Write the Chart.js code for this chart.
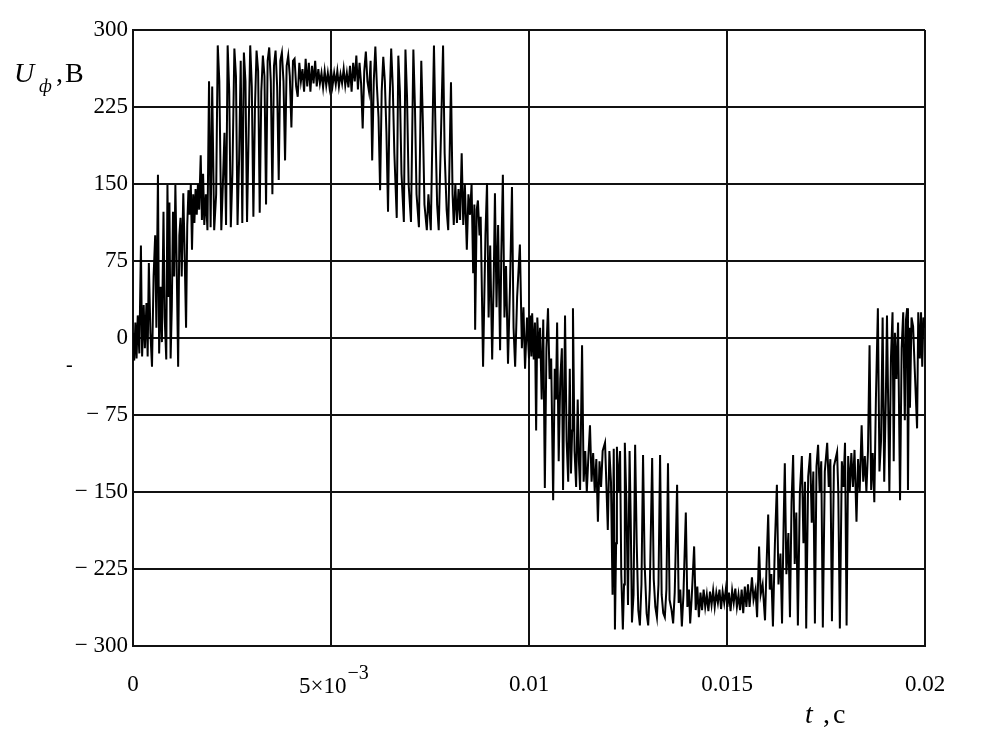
<!DOCTYPE html>
<html>
<head>
<meta charset="utf-8">
<script src="https://cdn.jsdelivr.net/npm/chart.js@4"></script>
<style>
  html, body { margin: 0; padding: 0; background: #fff; }
  #wrap { width: 990px; height: 746px; }
</style>
</head>
<body>
<div id="wrap"><canvas id="myChart" width="990" height="746"></canvas></div>
<script>
// time, ms
const tMs = [
  0.00,0.03,0.06,0.09,0.12,0.16,0.20,0.23,0.27,0.30,
  0.34,0.37,0.40,0.44,0.48,0.52,0.56,0.59,0.63,0.66,
  0.70,0.73,0.77,0.80,0.84,0.87,0.90,0.92,0.95,0.98,
  1.01,1.04,1.07,1.10,1.14,1.17,1.20,1.23,1.27,1.30,
  1.34,1.37,1.40,1.43,1.46,1.49,1.52,1.55,1.58,1.61,
  1.64,1.67,1.71,1.74,1.77,1.80,1.84,1.88,1.92,1.96,
  2.00,2.05,2.10,2.14,2.18,2.23,2.27,2.31,2.35,2.39,
  2.43,2.47,2.51,2.56,2.60,2.64,2.68,2.72,2.76,2.80,
  2.84,2.88,2.92,2.96,3.00,3.04,3.08,3.12,3.16,3.20,
  3.24,3.28,3.32,3.36,3.40,3.44,3.48,3.52,3.56,3.60,
  3.64,3.68,3.72,3.76,3.80,3.84,3.88,3.92,3.96,4.00,
  4.04,4.08,4.12,4.16,4.20,4.24,4.28,4.32,4.36,4.40,
  4.44,4.48,4.52,4.56,4.60,4.64,4.68,4.72,4.76,4.80,
  4.84,4.88,4.92,4.96,5.00,5.04,5.08,5.12,5.16,5.20,
  5.24,5.28,5.32,5.36,5.40,5.44,5.48,5.52,5.56,5.60,
  5.64,5.68,5.72,5.76,5.80,5.84,5.88,5.92,5.96,6.00,
  6.04,6.08,6.12,6.16,6.20,6.24,6.28,6.32,6.36,6.40,
  6.44,6.48,6.52,6.56,6.60,6.66,6.70,6.74,6.78,6.84,
  6.88,6.92,6.96,7.02,7.08,7.12,7.16,7.22,7.28,7.32,
  7.36,7.42,7.46,7.52,7.60,7.64,7.68,7.72,7.83,7.87,
  7.92,7.96,8.03,8.07,8.10,8.14,8.18,8.22,8.26,8.30,
  8.34,8.38,8.43,8.47,8.51,8.55,8.59,8.62,8.64,8.68,
  8.71,8.75,8.78,8.84,8.90,8.94,8.98,9.02,9.07,9.11,
  9.14,9.18,9.22,9.27,9.30,9.34,9.38,9.42,9.47,9.52,
  9.57,9.61,9.65,9.70,9.77,9.82,9.86,9.90,9.95,10.00,
  10.03,10.06,10.08,10.12,10.15,10.18,10.21,10.25,10.28,10.32,
  10.36,10.40,10.44,10.48,10.52,10.56,10.61,10.65,10.68,10.71,
  10.75,10.79,10.83,10.86,10.89,10.91,10.95,10.99,11.03,11.06,
  11.09,11.11,11.15,11.19,11.23,11.26,11.29,11.34,11.38,11.42,
  11.46,11.50,11.54,11.58,11.62,11.66,11.70,11.74,11.78,11.82,
  11.86,11.92,11.96,11.99,12.03,12.07,12.11,12.14,12.17,12.20,
  12.22,12.26,12.30,12.33,12.37,12.40,12.42,12.46,12.50,12.54,
  12.57,12.60,12.64,12.68,12.72,12.76,12.80,12.84,12.88,12.92,
  12.97,13.01,13.05,13.11,13.15,13.19,13.23,13.27,13.31,13.35,
  13.39,13.43,13.47,13.51,13.55,13.60,13.64,13.68,13.74,13.78,
  13.82,13.86,13.90,13.96,14.00,14.04,14.07,14.11,14.17,14.21,
  14.25,14.29,14.33,14.37,14.41,14.45,14.49,14.53,14.57,14.61,
  14.65,14.69,14.73,14.77,14.81,14.85,14.89,14.93,14.97,15.01,
  15.05,15.09,15.13,15.17,15.21,15.25,15.29,15.33,15.37,15.41,
  15.45,15.49,15.53,15.57,15.63,15.67,15.72,15.76,15.81,15.85,
  15.90,15.96,16.00,16.04,16.08,16.12,16.16,16.21,16.26,16.30,
  16.35,16.39,16.43,16.46,16.50,16.55,16.59,16.63,16.67,16.71,
  16.75,16.79,16.84,16.89,16.93,16.97,17.00,17.05,17.10,17.14,
  17.18,17.22,17.26,17.30,17.34,17.38,17.42,17.47,17.53,17.57,
  17.61,17.65,17.70,17.78,17.81,17.85,17.90,17.94,17.98,18.02,
  18.06,18.10,18.14,18.18,18.22,18.27,18.31,18.35,18.40,18.44,
  18.48,18.52,18.56,18.60,18.64,18.68,18.72,18.76,18.81,18.85,
  18.89,18.93,18.97,19.01,19.04,19.07,19.10,19.14,19.18,19.21,
  19.24,19.28,19.32,19.37,19.41,19.45,19.49,19.52,19.55,19.57,
  19.60,19.62,19.66,19.70,19.74,19.80,19.83,19.87,19.90,19.93,
  19.96,20.00
];

// phase voltage, V
const uV = [
  5,-22,15,-20,22,-15,90,-18,32,-10,
  34,-18,73,5,-28,60,100,10,159,-15,
  50,-4,123,20,-21,149,40,132,-20,30,
  123,60,149,80,-28,100,117,60,141,90,
  10,110,144,120,150,86,140,112,145,120,
  150,125,178,115,160,110,140,105,250,108,
  245,105,140,285,250,105,150,200,110,285,
  240,108,160,282,255,110,175,270,112,278,
  250,113,200,285,245,118,225,280,260,122,
  240,275,255,130,270,283,250,140,265,280,
  245,154,270,278,250,173,265,275,255,205,
  270,272,245,235,268,250,262,240,272,245,
  268,240,265,248,270,245,262,248,258,244,
  260,246,258,245,262,246,258,247,260,245,
  257,248,262,246,258,244,265,240,268,250,
  275,242,268,248,204,260,279,250,240,270,
  173,250,284,245,215,144,240,274,250,200,
  123,230,282,245,180,117,275,240,160,113,
  281,235,150,113,281,225,140,108,270,210,
  130,105,140,105,285,200,130,105,285,180,
  125,105,249,140,110,150,112,145,115,180,
  110,150,86,140,120,150,63,130,8,125,
  134,100,118,-28,100,151,20,90,-21,60,
  141,30,110,-12,80,159,20,70,-25,50,
  147,10,-28,40,91,-10,30,-30,20,-20,
  22,-18,24,-21,15,-90,20,-20,10,-60,
  18,-146,-10,29,-40,-20,-158,-30,-60,15,
  -120,-40,-10,-148,-50,22,-100,-140,-30,-132,
  -90,29,-110,-145,-60,-120,-148,-7,-140,-110,
  -150,-115,-85,-140,-112,-150,-118,-179,-120,-145,
  -110,-102,-150,-187,-110,-140,-250,-108,-284,-200,
  -106,-150,-110,-230,-284,-240,-102,-160,-260,-110,
  -180,-277,-250,-104,-200,-265,-280,-240,-114,-220,
  -268,-280,-245,-117,-235,-262,-272,-240,-114,-250,
  -268,-272,-245,-122,-255,-265,-278,-248,-143,-258,
  -245,-281,-250,-170,-262,-245,-278,-252,-203,-265,
  -242,-272,-248,-265,-245,-262,-250,-266,-247,-260,
  -246,-262,-248,-258,-245,-264,-247,-258,-245,-262,
  -248,-266,-246,-258,-244,-262,-250,-265,-245,-268,
  -242,-262,-240,-262,-233,-255,-245,-272,-203,-250,
  -240,-275,-220,-172,-245,-230,-281,-200,-143,-240,
  -210,-278,-180,-122,-230,-190,-272,-160,-114,-220,
  -170,-280,-150,-115,-200,-140,-283,-135,-112,-180,
  -130,-278,-125,-104,-150,-120,-282,-130,-102,-145,
  -118,-276,-125,-111,-150,-283,-120,-145,-102,-280,
  -115,-150,-112,-145,-109,-179,-118,-150,-85,-140,
  -115,-150,-110,-7,-148,-112,-160,-60,29,-130,
  -100,20,-140,-60,22,-63,-150,-20,25,-120,
  5,-40,15,-158,-10,25,-80,18,29,-148,
  10,-68,20,11,-30,-88,25,-20,25,-28,
  20,10
];

const xTickLabels = ['0', '', '0.01', '0.015', '0.02'];   // 5×10^-3 is drawn by the plugin

const serif = "'Liberation Serif', 'Times New Roman', serif";
const points = tMs.map((t, i) => ({ x: t / 1000, y: uV[i] }));

const extraText = {
  id: 'extraText',
  afterDraw(chart) {
    const c = chart.ctx;
    const px = chart.scales.x.getPixelForValue(0.005);
    c.save();
    c.fillStyle = '#000';
    c.textBaseline = 'alphabetic';
    c.textAlign = 'left';

    // 5×10^-3 tick label
    c.font = '23px ' + serif;
    const w = c.measureText('5×10').width;
    c.fillText('5×10', px - 32, 693);
    c.font = '20px ' + serif;
    c.fillText('−3', px - 32 + w + 1, 679);

    // y axis title
    c.font = 'italic 28px ' + serif;
    c.fillText('U', 14, 82);
    c.font = 'italic 18px ' + serif;
    c.fillText('ф', 39, 92);
    c.font = '28px ' + serif;
    c.fillText(',', 56, 82);
    c.fillText('В', 65, 82);

    // x axis title
    c.font = 'italic 28px ' + serif;
    c.fillText('t', 805, 723);
    c.font = '28px ' + serif;
    c.fillText(',', 823, 723);
    c.fillText('с', 833, 723);

    // stray mark left of the axis
    c.font = '20px ' + serif;
    c.fillText('-', 66, 371);
    c.restore();
  }
};

new Chart(document.getElementById('myChart'), {
  type: 'line',
  data: {
    datasets: [{
      data: points,
      borderColor: '#000',
      borderWidth: 2,
      pointRadius: 0,
      tension: 0,
      fill: false
    }]
  },
  options: {
    responsive: false,
    animation: false,
    devicePixelRatio: 1,
    layout: { padding: { top: 30, right: 65, left: 0, bottom: 0 } },
    plugins: { legend: { display: false }, tooltip: { enabled: false } },
    scales: {
      x: {
        type: 'linear',
        min: 0,
        max: 0.02,
        afterFit(s) { s.height = 100; },
        ticks: {
          stepSize: 0.005,
          padding: 25,
          autoSkip: false,
          maxRotation: 0,
          color: '#000',
          font: { family: serif, size: 23 },
          callback: (v, i) => xTickLabels[i]
        },
        grid: { color: '#111', lineWidth: 2, drawTicks: false },
        border: { color: '#111', width: 2 }
      },
      y: {
        min: -300,
        max: 300,
        afterFit(s) { s.width = 133; },
        ticks: {
          stepSize: 75,
          padding: 5,
          color: '#000',
          font: { family: serif, size: 23 },
          callback: v => v < 0 ? '− ' + (-v) : String(v)
        },
        grid: { color: '#111', lineWidth: 2, drawTicks: false },
        border: { color: '#111', width: 2 }
      }
    }
  },
  plugins: [extraText]
});
</script>
</body>
</html>
